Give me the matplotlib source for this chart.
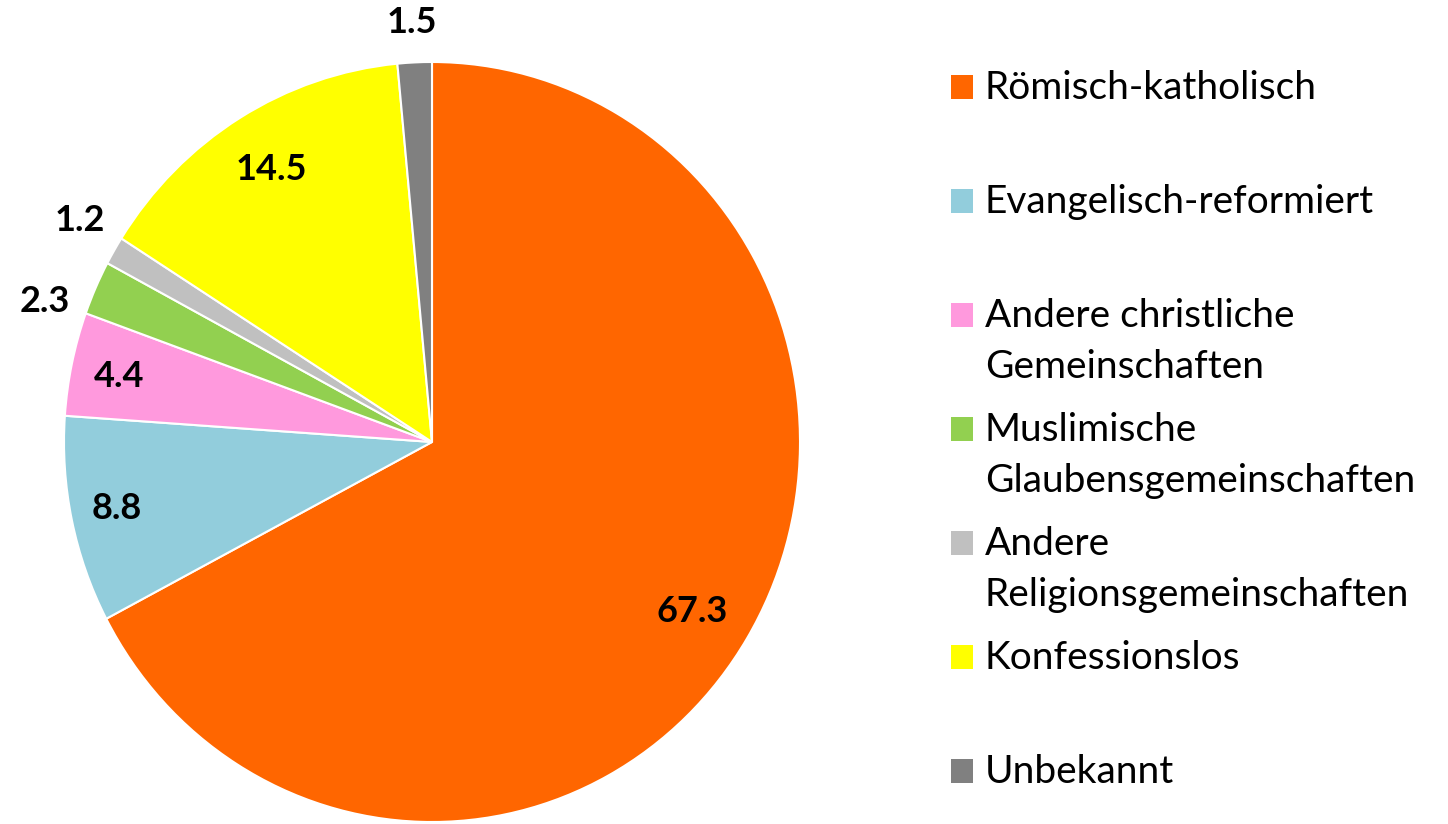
import numpy as np
import matplotlib
matplotlib.use("Agg")
import matplotlib.pyplot as plt
from matplotlib.patches import Rectangle

categories = ["Römisch-katholisch", "Evangelisch-reformiert",
              "Andere christliche\nGemeinschaften", "Muslimische\nGlaubensgemeinschaften",
              "Andere\nReligionsgemeinschaften", "Konfessionslos", "Unbekannt"]
values = [67.3, 8.8, 4.4, 2.3, 1.2, 14.5, 1.5]
labels = ["67.3", "8.8", "4.4", "2.3", "1.2", "14.5", "1.5"]
colors = ["#FF6600", "#92CDDC", "#FF99DD", "#92D050", "#C0C0C0", "#FFFF00", "#808080"]
# label placement: radius factor (inside <1, outside >1) and angle nudge in degrees
label_r = [0.845, 0.875, 0.87, 1.12, 1.13, 0.86, 1.14]
label_dang = [-2, 0, 0, 4, -2, -1, 0]

plt.rcParams["font.family"] = ["Lato", "DejaVu Sans"]

W, H = 1448, 824
sy = 368 / 380  # pie is a bit taller than wide in the reference
fig = plt.figure(figsize=(W / 100, H / 100), dpi=100)
ax = fig.add_axes([0, 0, 1, 1])

cx, cy, r = 432, (H - 442) * sy, 368
wedges, _ = ax.pie(values, colors=colors, startangle=90, counterclock=False,
                   center=(cx, cy), radius=r, frame=True,
                   wedgeprops=dict(edgecolor="white", linewidth=1.5))
ax.set_aspect("auto")
ax.set_xlim(0, W)
ax.set_ylim(0, H * sy)
ax.axis("off")

for w, lab, f, da in zip(wedges, labels, label_r, label_dang):
    ang = np.deg2rad((w.theta1 + w.theta2) / 2 + da)
    ax.text(cx + f * r * np.cos(ang), cy + f * r * np.sin(ang) * sy, lab,
            ha="center", va="center", fontsize=26, fontweight="bold", color="black")

# legend, drawn by hand
y0, step, line_h = 87, 114, 51
for i, (cat, col) in enumerate(zip(categories, colors)):
    y = y0 + i * step
    ax.add_patch(Rectangle((951, (H - y - 12) * sy), 22, 24 * sy,
                           facecolor=col, edgecolor="none"))
    for k, line in enumerate(cat.split("\n")):
        ax.text(985, (H - y - 12 - k * line_h) * sy, line, ha="left", va="baseline",
                fontsize=28, color="black")

fig.savefig("out.png", dpi=100)
